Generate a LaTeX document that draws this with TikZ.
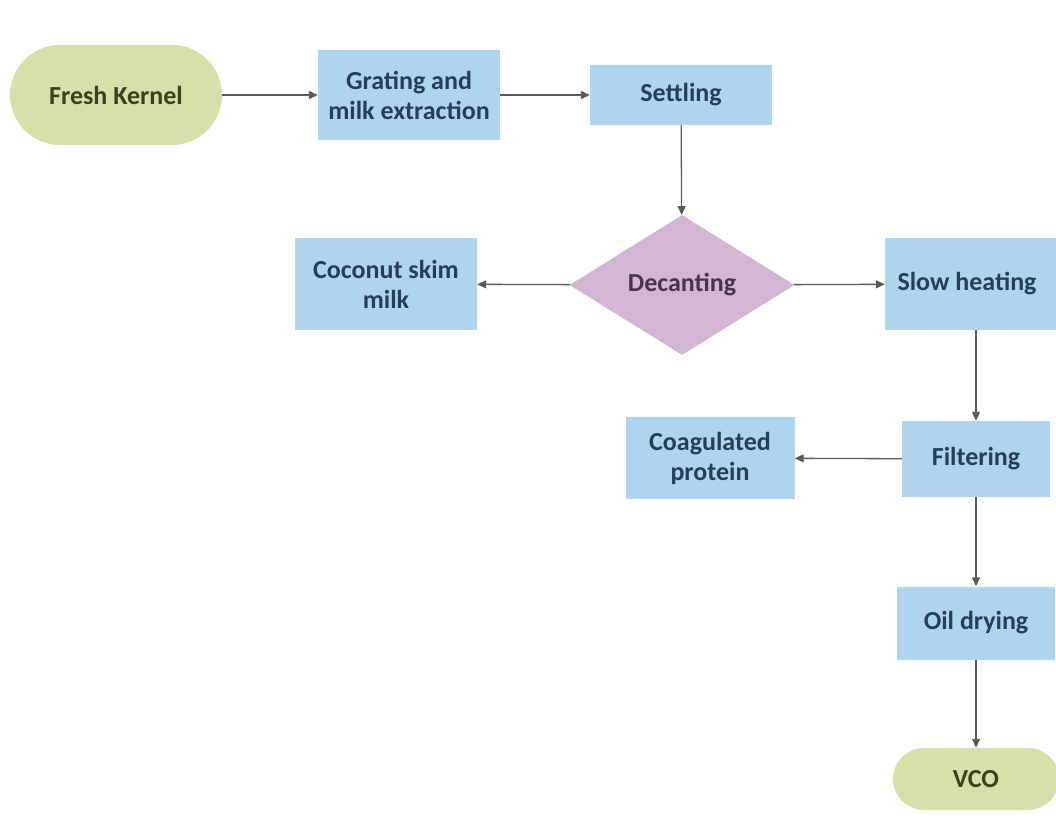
\documentclass[tikz,border=0pt]{standalone}
\usepackage{fontspec}
\setmainfont{Carlito}
\usetikzlibrary{shapes.geometric,arrows.meta}
\definecolor{gfill}{HTML}{D6E0A8}
\definecolor{gtext}{HTML}{38421E}
\definecolor{bfill}{HTML}{AFD5EE}
\definecolor{btext}{HTML}{263F58}
\definecolor{pfill}{HTML}{D3B6D3}
\definecolor{ptext}{HTML}{4A3548}
\definecolor{arr}{HTML}{5A5A5A}
\tikzset{
  base/.style={font=\fontsize{26}{30}\selectfont\bfseries, align=center, inner sep=0pt},
  pill/.style={base, fill=gfill, text=gtext, rounded corners=50pt},
  box/.style={base, fill=bfill, text=btext},
  dec/.style={base, diamond, fill=pfill, text=ptext, aspect=1.6},
  flow/.style={draw=arr, line width=1.3pt, -{Triangle[length=9pt,width=8pt]}}
}
\begin{document}
\begin{tikzpicture}[x=1pt,y=-1pt]
\useasboundingbox[fill=white] (0,0) rectangle (1056,833);
\node[pill, minimum width=212pt, minimum height=100pt] (fk) at (116,95) {Fresh Kernel};
\node[box, minimum width=182pt, minimum height=90pt] (gr) at (409,95) {Grating and\\milk extraction};
\node[box, minimum width=182pt, minimum height=60pt] (se) at (681,95) {Settling};
\node[dec, minimum width=225pt, minimum height=140pt] (de) at (682,285) {Decanting};
\node[box, minimum width=182pt, minimum height=92pt] (cs) at (386,284) {Coconut skim\\milk};
\node[box, minimum width=182pt, minimum height=92pt] (sh) at (976,284) {};
\node[base, text=btext] (sht) at (967,284) {Slow heating};
\node[box, minimum width=148pt, minimum height=76pt] (fi) at (976,459) {Filtering};
\node[box, minimum width=169pt, minimum height=82pt] (cp) at (710,458) {Coagulated\\protein};
\node[box, minimum width=158pt, minimum height=73pt] (od) at (976,623) {Oil drying};
\node[pill, minimum width=166pt, minimum height=62pt, rounded corners=31pt] (vc) at (976,779) {VCO};
\draw[flow] (fk) -- (gr);
\draw[flow] (gr) -- (se);
\draw[flow] (se) -- (de);
\draw[flow] (de) -- (cs);
\draw[flow] (de) -- (sh);
\draw[flow] (sh) -- (fi);
\draw[flow] (fi) -- (cp);
\draw[flow] (fi) -- (od);
\draw[flow] (od) -- (vc);
\end{tikzpicture}
\end{document}
